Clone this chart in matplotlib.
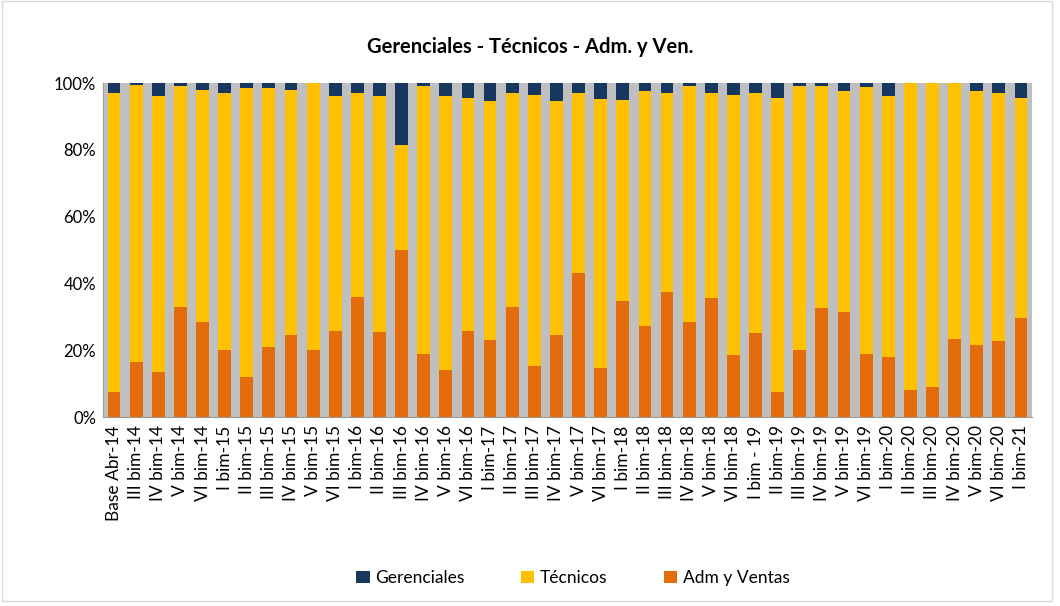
import numpy as np
import matplotlib.pyplot as plt
from matplotlib.patches import Rectangle

plt.rcParams['font.family'] = ['Lato', 'DejaVu Sans']

# Datos (porcentajes)
periodos = ['Base Abr-14', 'III bim-14', 'IV bim-14', 'V bim-14', 'VI bim-14',
            'I bim-15', 'II bim-15', 'III bim-15', 'IV bim-15', 'V bim-15', 'VI bim-15',
            'I bim-16', 'II bim-16', 'III bim-16', 'IV bim-16', 'V bim-16', 'VI bim-16',
            'I bim-17', 'II bim-17', 'III bim-17', 'IV bim-17', 'V bim-17', 'VI bim-17',
            'I bim-18', 'II bim-18', 'III bim-18', 'IV bim-18', 'V bim-18', 'VI bim-18',
            'I bim - 19', 'II bim-19', 'III bim-19', 'IV bim-19', 'V bim-19', 'VI bim-19',
            'I bim-20', 'II bim-20', 'III bim-20', 'IV bim-20', 'V bim-20', 'VI bim-20',
            'I bim-21']

adm_ventas = [7.5, 16.5, 13.5, 33.0, 28.5, 20.0, 12.0, 21.0, 24.5, 20.0, 25.7,
              36.0, 25.5, 50.0, 19.0, 14.0, 25.7, 23.0, 33.0, 15.3, 24.5,
              43.0, 14.7, 34.7, 27.3, 37.5, 28.3, 35.7, 18.5, 25.2, 7.5,
              20.0, 32.5, 31.5, 19.0, 18.0, 8.0, 9.0, 23.4, 21.5, 22.8, 29.6]

# tope acumulado de Técnicos + Adm y Ventas
acumulado = [97.0, 99.4, 96.0, 99.0, 98.0, 97.0, 98.5, 98.5, 98.0, 100.0, 96.0,
             97.0, 96.0, 81.5, 99.0, 96.0, 95.5, 94.5, 97.0, 96.5, 94.5,
             97.0, 95.3, 95.0, 97.5, 97.0, 99.2, 97.0, 96.5, 97.0, 95.5,
             99.0, 99.0, 97.5, 98.7, 96.0, 100.0, 100.0, 100.0, 97.5, 97.0, 95.5]

adm_ventas = np.array(adm_ventas)
acumulado = np.array(acumulado)
tecnicos = acumulado - adm_ventas
gerenciales = 100 - acumulado

c_ger = '#17375E'
c_tec = '#FFC000'
c_adm = '#E46C0A'

fig = plt.figure(figsize=(10.6, 6.06), dpi=100)
ax = fig.add_axes([103 / 1060, 1 - 417 / 606, (1032 - 103) / 1060, (417 - 83) / 606])

x = np.arange(len(periodos))
w = 0.58
ax.bar(x, adm_ventas, w, color=c_adm, label='Adm y Ventas', zorder=3)
ax.bar(x, tecnicos, w, bottom=adm_ventas, color=c_tec, label='Técnicos', zorder=3)
ax.bar(x, gerenciales, w, bottom=acumulado, color=c_ger, label='Gerenciales', zorder=3)

ax.set_facecolor('#BFBFBF')
ax.set_xlim(-0.5, len(periodos) - 0.5)
ax.set_ylim(0, 100)
ax.set_yticks([0, 20, 40, 60, 80, 100])
ax.set_yticklabels(['0%', '20%', '40%', '60%', '80%', '100%'], fontsize=12)
ax.set_xticks(x)
ax.set_xticklabels(periodos, rotation=90, fontsize=12.5)
ax.tick_params(axis='y', length=0, pad=5)
ax.tick_params(axis='x', length=0, pad=6)
for s in ['top', 'right']:
    ax.spines[s].set_visible(False)
ax.spines['left'].set_color('#999999')
ax.spines['bottom'].set_color('#999999')

fig.suptitle('Gerenciales - Técnicos - Adm. y Ven.', y=1 - 37 / 606,
             fontsize=14.5, fontweight='bold')

h, l = ax.get_legend_handles_labels()
fig.legend(h[::-1], l[::-1], loc='center', bbox_to_anchor=(573 / 1060, 1 - 578 / 606),
           ncol=3, frameon=False, fontsize=12.5, columnspacing=3.3,
           handlelength=0.75, handleheight=0.75, handletextpad=0.3)

fig.patches.append(Rectangle((0.002, 0.008), 0.99, 0.99, transform=fig.transFigure,
                             fill=False, edgecolor='#D9D9D9', linewidth=1))

fig.savefig('out.png', dpi=100)
